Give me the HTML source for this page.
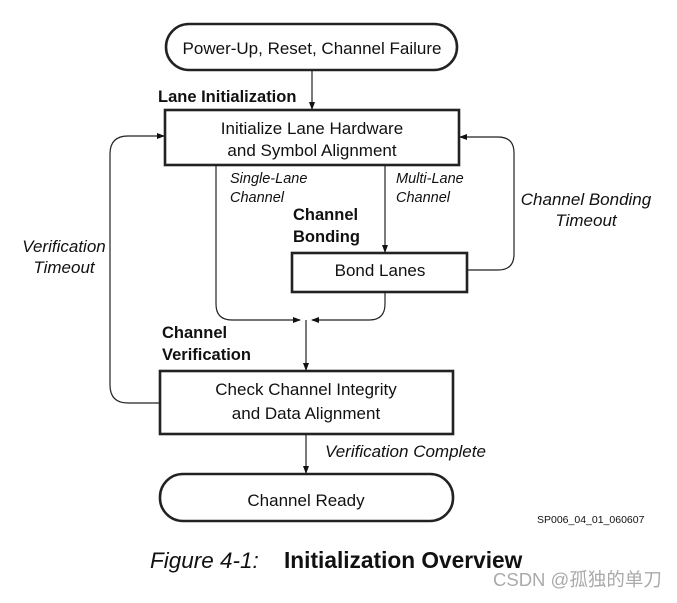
<!DOCTYPE html>
<html><head><style>
body{margin:0;background:#fff;}
svg text{font-family:"Liberation Sans",sans-serif;fill:#111;}
</style></head><body>
<svg width="677" height="598" viewBox="0 0 677 598" xmlns="http://www.w3.org/2000/svg">
<defs><marker id="a" markerWidth="8" markerHeight="8" refX="7" refY="4" orient="auto" markerUnits="userSpaceOnUse"><path d="M0,1 L8,4 L0,7 z" fill="#111"/></marker></defs>
<g fill="none" stroke="#222" stroke-width="2.6">
<rect x="166" y="24" width="291" height="46" rx="23"/>
<rect x="165" y="110" width="294" height="55"/>
<rect x="292" y="253" width="175" height="39"/>
<rect x="160" y="371" width="293" height="63"/>
<rect x="160" y="474" width="293" height="47" rx="23"/>
</g>
<g fill="none" stroke="#222" stroke-width="1.2">
<line x1="312" y1="70" x2="312" y2="109" marker-end="url(#a)"/>
<line x1="385" y1="165" x2="385" y2="252" marker-end="url(#a)"/>
<path d="M216,165 V304 Q216,320 232,320 H300" marker-end="url(#a)"/>
<path d="M385,292 V304 Q385,320 369,320 H312" marker-end="url(#a)"/>
<line x1="306" y1="320" x2="306" y2="370" marker-end="url(#a)"/>
<line x1="306" y1="434" x2="306" y2="473" marker-end="url(#a)"/>
<path d="M160,403 H128 Q110,403 110,385 V154 Q110,136 128,136 H164" marker-end="url(#a)"/>
<path d="M467,270 H498 Q514,270 514,254 V153 Q514,137 498,137 H460" marker-end="url(#a)"/>
</g>
<g font-size="17" text-anchor="middle">
<text x="312" y="54">Power-Up, Reset, Channel Failure</text>
<text x="312" y="134">Initialize Lane Hardware</text>
<text x="312" y="156">and Symbol Alignment</text>
<text x="380" y="276">Bond Lanes</text>
<text x="306" y="395">Check Channel Integrity</text>
<text x="306" y="419">and Data Alignment</text>
<text x="306" y="506">Channel Ready</text>
</g>
<g font-size="16.5" font-weight="bold">
<text x="158" y="102">Lane Initialization</text>
<text x="293" y="220">Channel</text>
<text x="293" y="242">Bonding</text>
<text x="162" y="338">Channel</text>
<text x="162" y="360">Verification</text>
</g>
<g font-style="italic">
<text x="230" y="183" font-size="14.5">Single-Lane</text>
<text x="230" y="202" font-size="14.5">Channel</text>
<text x="396" y="183" font-size="14.5">Multi-Lane</text>
<text x="396" y="202" font-size="14.5">Channel</text>
<text x="586" y="205" font-size="17" text-anchor="middle">Channel Bonding</text>
<text x="586" y="226" font-size="17" text-anchor="middle">Timeout</text>
<text x="64" y="252" font-size="17" text-anchor="middle">Verification</text>
<text x="64" y="273" font-size="17" text-anchor="middle">Timeout</text>
<text x="325" y="457" font-size="17">Verification Complete</text>
</g>
<text x="537" y="523" font-size="10.5">SP006_04_01_060607</text>
<text x="150" y="568" font-size="22.5" font-style="italic">Figure 4-1:</text>
<text x="284" y="568" font-size="22.7" font-weight="bold">Initialization Overview</text>
<text x="493" y="586" font-size="18.5" style="fill:#aaa;font-family:'Liberation Sans','Noto Sans CJK SC',sans-serif">CSDN @孤独的单刀</text>
</svg>
</body></html>
